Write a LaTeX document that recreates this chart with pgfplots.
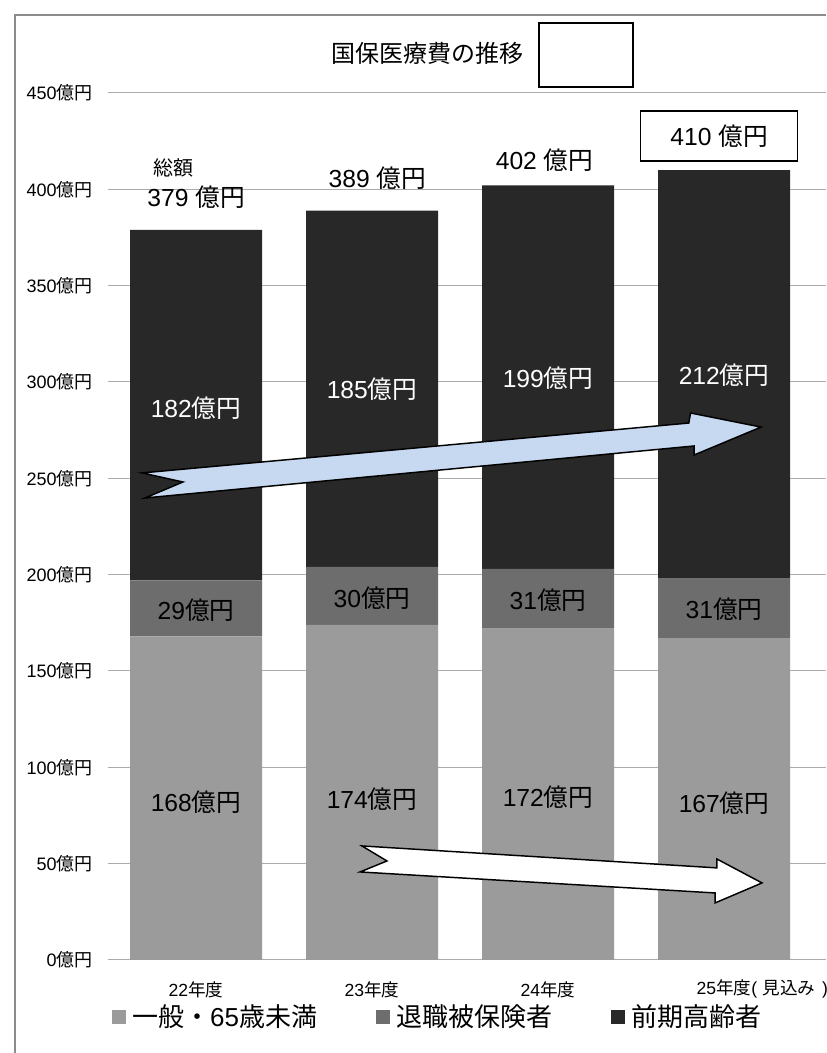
\documentclass[border=0pt]{standalone}
\usepackage{fontspec}
\setmainfont{Liberation Sans}
\newfontfamily\cjk{Noto Sans CJK JP}
\usepackage{pgfplots}
\pgfplotsset{compat=1.18}
\definecolor{cLight}{HTML}{9B9B9B}
\definecolor{cMid}{HTML}{6D6D6D}
\definecolor{cDark}{HTML}{282828}
\definecolor{cGrid}{HTML}{ABABAB}
\definecolor{cFrame}{HTML}{8C8C8C}
\definecolor{cBlue}{HTML}{C6D9F1}
\newcommand\oku{{\cjk 億円}}
\newcommand\fs[1]{\fontsize{#1}{#1}\selectfont}
\newcommand\annot{%
% arrows
\draw[black, line width=1.1pt, fill=cBlue, line join=miter]
  (axis cs:-0.307,252.8) -- (axis cs:2.80,278.7) -- (axis cs:2.81,283.9) -- (axis cs:3.21,276.6)
  -- (axis cs:2.83,262.1) -- (axis cs:2.83,266.8) -- (axis cs:-0.29,239.8) -- (axis cs:-0.074,248.1) -- cycle;
\draw[black, line width=1.1pt, fill=white, line join=miter]
  (axis cs:0.943,59.2) -- (axis cs:2.96,47.8) -- (axis cs:2.96,52.4) -- (axis cs:3.216,40.0)
  -- (axis cs:2.949,29.6) -- (axis cs:2.949,34.8) -- (axis cs:0.932,45.7) -- (axis cs:1.085,51.4) -- cycle;
% segment labels
\node[font=\fs{18.5}, text=white] at (axis cs:0,286.5) {182\oku};
\node[font=\fs{18.5}, text=white] at (axis cs:1,296.5) {185\oku};
\node[font=\fs{18.5}, text=white] at (axis cs:2,302.1) {199\oku};
\node[font=\fs{18.5}, text=white] at (axis cs:3,303.6) {212\oku};
\node[font=\fs{18.5}] at (axis cs:0,181.7) {29\oku};
\node[font=\fs{18.5}] at (axis cs:1,187.9) {30\oku};
\node[font=\fs{18.5}] at (axis cs:2,186.5) {31\oku};
\node[font=\fs{18.5}] at (axis cs:3,182.2) {31\oku};
\node[font=\fs{18.5}] at (axis cs:0,82.0) {168\oku};
\node[font=\fs{18.5}] at (axis cs:1,83.5) {174\oku};
\node[font=\fs{18.5}] at (axis cs:2,84.6) {172\oku};
\node[font=\fs{18.5}] at (axis cs:3,81.5) {167\oku};
% title and boxes
\node[font=\cjk\fs{18}] at (axis cs:1.318,470.7) {国保医療費の推移};
\node[draw=black, line width=0.9pt, minimum width=70.5pt, minimum height=48pt, inner sep=0pt]
  at (axis cs:2.216,469.7) {};
% totals
\node[font=\cjk\fs{15}] at (axis cs:-0.13,411.1) {総額};
\node[font=\fs{18.5}] at (axis cs:0,396) {379 \oku};
\node[font=\fs{18.5}] at (axis cs:1.03,405.9) {389 \oku};
\node[font=\fs{18.5}] at (axis cs:1.98,415.2) {402 \oku};
\node[draw=black, fill=white, line width=0.9pt, minimum width=117.75pt, minimum height=37.5pt,
  inner sep=0pt, font=\fs{18.5}] at (axis cs:2.972,427.7) {410 \oku};
}
\begin{document}
\begin{tikzpicture}
\useasboundingbox (0,0) rectangle (619.5pt,789.75pt);
\draw[cFrame,line width=1.1pt] (11.25pt,0pt) -- (11.25pt,778.5pt) -- (619.5pt,778.5pt);
\begin{axis}[
  at={(81pt,69.75pt)}, anchor=south west, scale only axis,
  width=538.5pt, height=650.25pt,
  xmin=-0.5, xmax=3.5795, ymin=0, ymax=450,
  ybar stacked, bar width=0.75,
  ytick={0,50,...,450},
  yticklabels={0\oku,50\oku,100\oku,150\oku,200\oku,250\oku,300\oku,350\oku,400\oku,450\oku},
  xtick={0,1,2,3},
  xticklabels={22{\cjk 年度},23{\cjk 年度},24{\cjk 年度},25{\cjk 年度}\rlap{(\hspace{4pt}{\cjk 見込み}\hspace{5pt})}},
  ymajorgrids, grid style={cGrid, line width=0.75pt},
  axis line style={draw=none}, major tick length=0pt,
  clip=false,
  yticklabel style={font=\fs{13.5}, anchor=east, xshift=-8pt},
  xticklabel style={font=\fs{13.2}, anchor=center, yshift=-22pt},
  legend style={at={(0.4596,-0.0657)}, anchor=center, draw=none, fill=none,
    legend columns=3, font=\fs{19.5},
    /tikz/every even column/.append style={column sep=42pt}},
  legend image code/.code={\fill[#1,draw=none] (0pt,-5.25pt) rectangle (10.5pt,5.25pt);},
  after end axis/.code={\annot},
]
\addplot[fill=cLight, draw=none] coordinates {(0,168) (1,174) (2,172) (3,167)};
\addlegendentry{\hspace{3pt}{\cjk 一般・}65{\cjk 歳未満}}
\addplot[fill=cMid, draw=none] coordinates {(0,29) (1,30) (2,31) (3,31)};
\addlegendentry{\hspace{3pt}{\cjk 退職被保険者}}
\addplot[fill=cDark, draw=none] coordinates {(0,182) (1,185) (2,199) (3,212)};
\addlegendentry{\hspace{3pt}{\cjk 前期高齢者}}
\end{axis}
\end{tikzpicture}
\end{document}
